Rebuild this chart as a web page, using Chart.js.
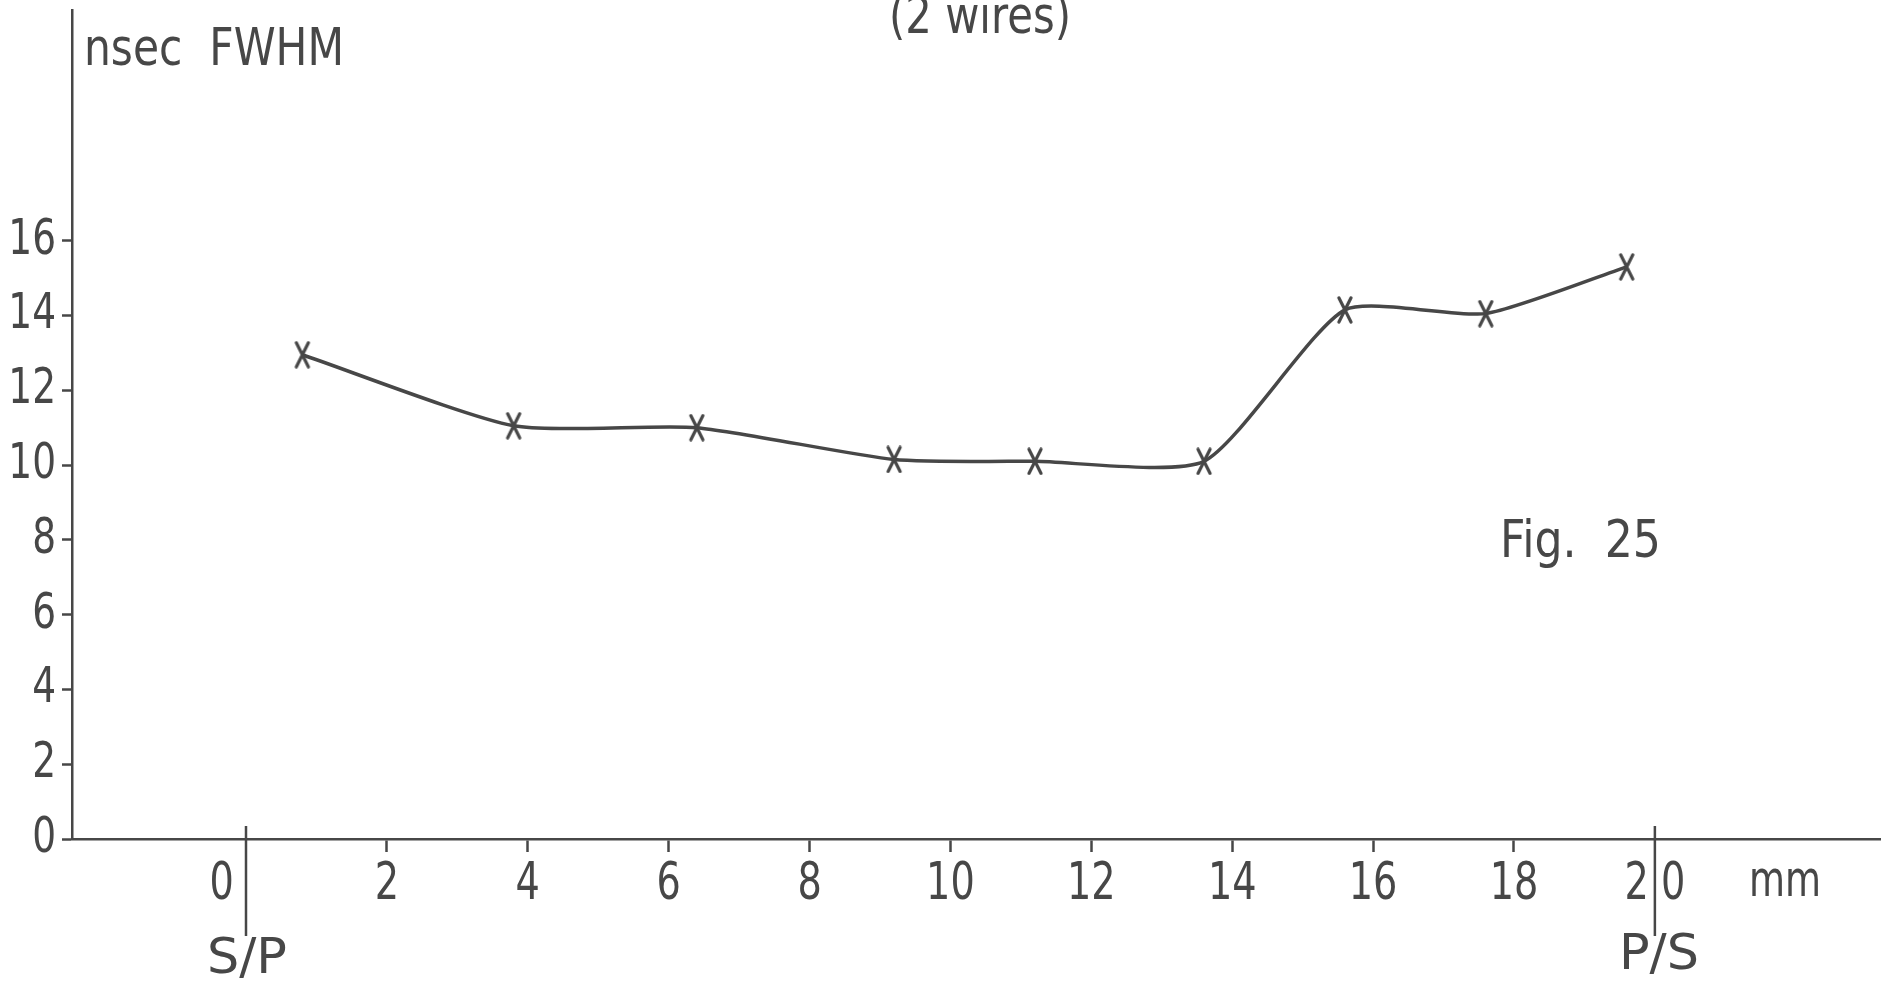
<!DOCTYPE html>
<html>
<head>
<meta charset="utf-8">
<script src="https://cdn.jsdelivr.net/npm/chart.js@4/dist/chart.umd.min.js"></script>
<style>
  html, body { margin: 0; padding: 0; background: #ffffff; }
  #wrap { width: 1881px; height: 981px; position: relative; }
</style>
</head>
<body>
<div id="wrap"><canvas id="c" width="1881" height="981"></canvas></div>
<script>
// ---- data ----
const positionsMm = [0.8, 3.8, 6.4, 9.2, 11.2, 13.6, 15.6, 17.6, 19.6];
const fwhmNs      = [12.95, 11.05, 11.0, 10.15, 10.1, 10.1, 14.15, 14.05, 15.3];
const xTickValues = [0, 2, 4, 6, 8, 10, 12, 14, 16, 18, 20];
const yTickValues = [0, 2, 4, 6, 8, 10, 12, 14, 16];
const boundaryPositions = [0, 20];
const boundaryLabels = ['S/P', 'P/S'];

const INK = '#474747';
const FONT = "'DejaVu Sans', sans-serif";
const LABEL_CONDENSE = 0.75;

const points = positionsMm.map((x, i) => ({ x: x, y: fwhmNs[i] }));

// hand-drawn style tall "x" marker
const marker = document.createElement('canvas');
marker.width = 18; marker.height = 28;
(function () {
  const m = marker.getContext('2d');
  m.strokeStyle = INK;
  m.lineWidth = 3.2;
  m.lineCap = 'round';
  m.beginPath();
  m.moveTo(3, 2); m.lineTo(15, 26);
  m.moveTo(15, 2); m.lineTo(3, 26);
  m.stroke();
})();

// draw tick labels horizontally condensed (stencil lettering look)
function condenseLabels(scale, factor) {
  if (scale._condensed) return;
  scale._condensed = true;
  const orig = scale.drawLabels;
  scale.drawLabels = function (area) {
    const ctx = this.ctx;
    const t = CanvasRenderingContext2D.prototype.translate;
    ctx.translate = function (x, y) { t.call(ctx, x, y); ctx.scale(factor, 1); };
    try { orig.call(this, area); } finally { delete ctx.translate; }
  };
}

function fitText(c, text, left, baseline, size, width) {
  c.save();
  c.font = size + 'px ' + FONT;
  c.textAlign = 'left';
  c.textBaseline = 'alphabetic';
  const w = c.measureText(text).width;
  c.translate(left, baseline);
  c.scale(width / w, 1);
  c.fillText(text, 0, 0);
  c.restore();
}

const extras = {
  id: 'extras',
  beforeDraw(chart) {
    const c = chart.ctx;
    c.save();
    c.fillStyle = '#ffffff';
    c.fillRect(0, 0, chart.width, chart.height);
    c.restore();
  },
  afterDraw(chart) {
    const c = chart.ctx;
    const xs = chart.scales.x;
    const ys = chart.scales.y;
    const y0 = ys.getPixelForValue(0);
    c.save();
    c.strokeStyle = INK;
    c.fillStyle = INK;
    c.lineWidth = 2.5;
    boundaryPositions.forEach((v, i) => {
      const px = xs.getPixelForValue(v);
      c.beginPath();
      c.moveTo(px, y0 - 13);
      c.lineTo(px, y0 + 97);
      c.stroke();
      fitText(c, boundaryLabels[i], px - (i === 0 ? 39 : 36), y0 + (i === 0 ? 134 : 130), 49, 80);
    });
    fitText(c, 'nsec  FWHM', 84, 65, 52, 260);
    fitText(c, '(2 wires)', 889, 33, 52, 182);
    fitText(c, 'Fig.  25', 1500, 557, 52, 161);
    fitText(c, 'mm', 1749, 896, 50, 72);
    c.restore();
  }
};

new Chart(document.getElementById('c'), {
  type: 'scatter',
  data: {
    datasets: [{
      data: points,
      showLine: true,
      tension: 0.2,
      borderColor: INK,
      borderWidth: 3.5,
      pointStyle: marker,
      pointRadius: 10,
      clip: false
    }]
  },
  options: {
    responsive: false,
    animation: false,
    devicePixelRatio: 1,
    layout: { autoPadding: false, padding: { top: 10, right: 0, left: 0, bottom: 0 } },
    plugins: { legend: { display: false }, tooltip: { enabled: false }, title: { display: false } },
    scales: {
      x: {
        type: 'linear',
        min: -2.47,
        max: 23.21,
        afterBuildTicks(scale) { scale.ticks = xTickValues.map(v => ({ value: v })); },
        afterFit(scale) {
          scale.height = 142;
          scale.paddingLeft = 0; scale.paddingRight = 0; scale.paddingTop = 0; scale.paddingBottom = 0;
          condenseLabels(scale, LABEL_CONDENSE);
        },
        grid: {
          drawOnChartArea: false,
          drawTicks: true,
          tickLength: 13,
          tickWidth: 2.5,
          tickColor: (ctx) => (ctx.tick && (ctx.tick.value === 0 || ctx.tick.value === 20)) ? 'rgba(0,0,0,0)' : INK
        },
        border: { display: true, color: INK, width: 2.5 },
        ticks: {
          autoSkip: false,
          maxRotation: 0,
          padding: 3,
          color: INK,
          font: { family: FONT, size: 51 },
          callback: (v) => v === 0 ? '0    ' : (v === 20 ? '2 0' : String(v))
        }
      },
      y: {
        type: 'linear',
        min: 0,
        max: 22.17,
        afterBuildTicks(scale) { scale.ticks = yTickValues.map(v => ({ value: v })); },
        afterFit(scale) {
          scale.width = 72;
          scale.paddingLeft = 0; scale.paddingRight = 0; scale.paddingTop = 0; scale.paddingBottom = 0;
          condenseLabels(scale, LABEL_CONDENSE);
        },
        grid: {
          drawOnChartArea: false,
          drawTicks: true,
          tickLength: 10,
          tickWidth: 2.5,
          tickColor: INK
        },
        border: { display: true, color: INK, width: 2.5 },
        ticks: {
          padding: 6,
          color: INK,
          font: { family: FONT, size: 50 },
          callback: (v) => String(v)
        }
      }
    }
  },
  plugins: [extras]
});
</script>
</body>
</html>
